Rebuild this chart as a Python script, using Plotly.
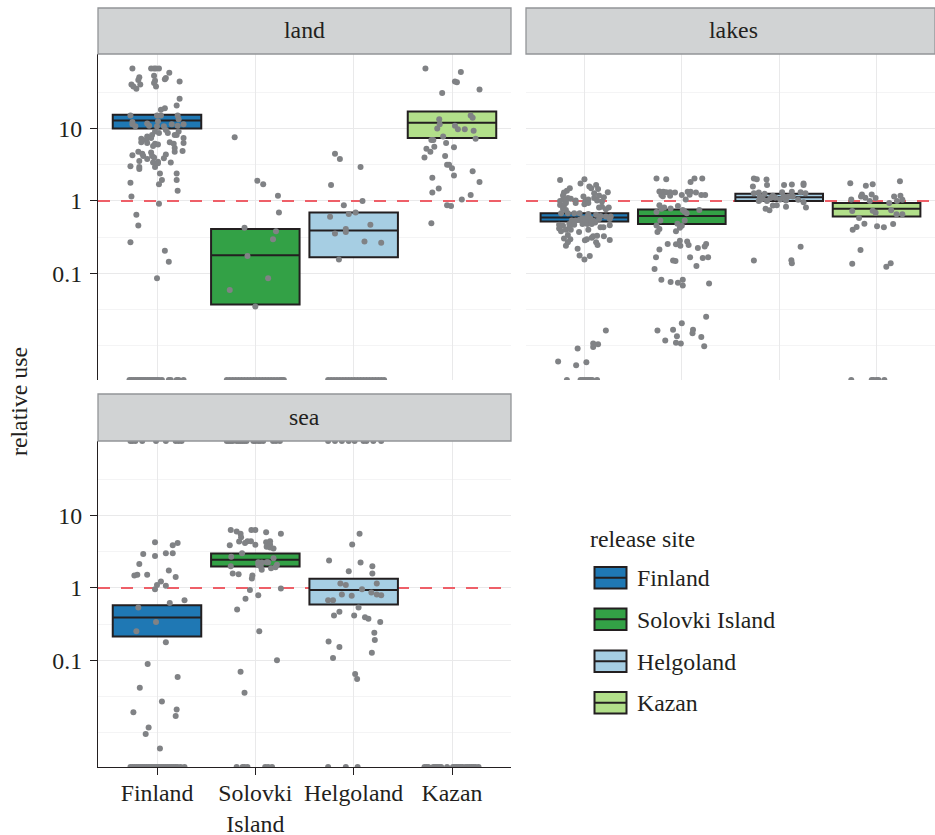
import numpy as np
import plotly.graph_objects as go

sites = ["Finland", "Solovki Island", "Helgoland", "Kazan"]
site_ticks = ["Finland", "Solovki<br>Island", "Helgoland", "Kazan"]
site_colors = ["#1f78b4", "#33a146", "#a6cee3", "#b2df8a"]
y_ticks = [0.1, 1, 10]
y_minor = [0.003162, 0.01, 0.03162, 0.3162, 3.162, 31.62]

# everything below is log10(relative use); *_x is the jitter around the site position
floor = -2.475
top = 2.03

# boxes: q1, median, q3
land_q = [[1.0, 1.11, 1.19], [-1.43, -0.75, -0.39], [-0.78, -0.41, -0.16], [0.87, 1.08, 1.235]]
lakes_q = [[-0.286, -0.23, -0.17], [-0.32, -0.21, -0.12], [0.0, 0.05, 0.10], [-0.217, -0.11, -0.03]]
sea_q = [[-0.67, -0.41, -0.24], [0.295, 0.39, 0.475], [-0.23, -0.03, 0.125], None]

land_fin_x = [-.25,-.06,-.03,-.01,.02,.125,-.03,-.18,-.19,.09,.08,-.02,.23,-.03,-.01,-.17,-.26,-.24,-.21,.23,.20,.08,.04,-.27,0,.04,.21,.22,-.25,-.25,-.22,-.10,-.08,.01,.15,0,.07,.21,.27,.09,.11,.22,.02,-.02,-.05,-.10,-.16,-.16,-.11,-.10,-.06,.27,.20,.18,.27,.13,.17,-.02,.01,-.04,.26,.18,.18,-.19,-.25,-.15,-.14,-.06,-.05,-.10,-.18,-.03,.09,.07,.14,-.04,.01,.01,-.02,-.27,-.18,-.18,.03,.20,.20,.05,.02,-.27,.21,-.26,.02,-.21,-.19,-.27,.08,.12,0]
land_fin_y = [1.83,1.83,1.83,1.83,1.83,1.77,1.73,1.71,1.67,1.70,1.68,1.66,1.65,1.63,1.58,1.61,1.61,1.58,1.55,1.41,1.32,1.28,1.26,1.18,1.18,1.18,1.18,1.13,1.09,1.06,1.03,1.07,1.04,1.10,1.06,1.03,1.03,1.04,1.06,.98,.94,.96,.94,.96,.91,.89,.86,.81,.84,.80,.87,.87,.91,.91,.80,.81,.79,.79,.78,.76,.69,.73,.68,.68,.63,.65,.62,.67,.62,.58,.55,.60,.64,.59,.53,.53,.54,.52,.47,.48,.47,.44,.38,.38,.29,.29,.23,.25,.14,.06,-.04,-.19,-.34,-.57,-.69,-.84,-1.07]
land_fin_floor_x = [-.28,-.26,-.24,-.22,-.20,-.18,-.16,-.14,-.12,-.10,-.08,-.06,-.04,-.02,0,.02,.05,.12,.14,.20,.22,.27]

land_sol_x = [-.21,.02,.08,.23,.24,-.11,.21,.18,-.08,.13,-.26,0]
land_sol_y = [.88,.28,.23,.07,-.16,-.37,-.42,-.53,-.76,-1.07,-1.23,-1.46]
land_sol_floor_x = [-.29,-.26,-.23,-.20,-.17,-.14,-.11,-.08,-.05,-.02,.01,.04,.07,.10,.13,.16,.19,.22,.25,.27,.29]

land_hel_x = [-.19,-.14,.07,-.23,.09,-.10,.02,-.05,-.24,.17,-.08,-.08,-.19,.11,.28,-.15]
land_hel_y = [.65,.58,.47,.22,0,-.06,-.16,-.18,-.22,-.33,-.39,-.43,-.45,-.56,-.58,-.81]
land_hel_floor_x = [-.26,-.23,-.20,-.17,-.14,-.11,-.08,-.05,-.02,.01,.04,.07,.10,.13,.16,.19,.22,.25,.28,.31]

land_kaz_x = [-.27,.09,.03,.05,-.10,.28,.19,.21,-.13,-.125,-.15,.03,.06,.13,.22,-.09,.24,-.21,-.19,-.06,-.18,-.26,-.22,.02,-.07,-.28,-.05,-.03,0,.21,.02,-.20,.28,-.135,-.20,.19,.10,-.05,-.01,-.21]
land_kaz_y = [1.83,1.78,1.65,1.64,1.49,1.54,1.18,1.15,1.13,1.06,1.0,1.04,.99,.99,.97,.89,.86,.84,.84,.80,.75,.72,.68,.74,.62,.60,.50,.50,.45,.41,.35,.32,.26,.17,.115,.08,.02,-.06,-.07,-.31]

lakes_fin_x = [-.25,0,-.04,.05,.12,.07,.14,-.15,-.18,-.21,-.22,.24,.20,.10,.15,-.01,.10,-.17,-.14,-.22,-.25,-.19,-.09,.01,.04,.13,.18,-.25,-.21,-.19,-.09,0,.04,.15,.18,.25,.22,-.22,-.19,-.24,-.17,-.105,-.05,.04,.12,.165,.22,.27,-.13,-.05,0,.05,.09,.15,.26,-.26,-.22,-.155,-.105,-.02,.03,.075,.11,.165,.195,.26,-.26,-.19,-.24,-.14,.04,-.055,-.17,-.21,-.145,.09,.075,.13,.20,.26,.025,.005,-.17,-.19,.12,.135,-.07,-.05,.055,0,-.02,.01,.06,.075,.03,-.155,-.09,.22,.09,.14,.09,-.07,-.27,-.085,.02]
lakes_fin_y = [.29,.30,.24,.20,.22,.175,.165,.175,.14,.115,.075,.12,.05,.105,.075,.06,.04,.04,.03,.015,0,.005,.005,0,.02,.005,-.01,-.055,-.065,-.03,-.03,-.045,-.03,-.09,-.08,-.09,-.115,-.11,-.125,-.17,-.17,-.17,-.17,-.18,-.19,-.21,-.215,-.215,-.27,-.26,-.285,-.30,-.275,-.25,-.25,-.33,-.345,-.32,-.33,-.32,-.32,-.32,-.30,-.365,-.365,-.335,-.38,-.40,-.42,-.40,-.40,-.43,-.47,-.52,-.53,-.49,-.51,-.48,-.49,-.54,-.53,-.545,-.57,-.62,-.57,-.61,-.66,-.755,-.76,-.81,-.24,-.26,-.24,-.29,-.22,-.37,-.27,-1.79,-1.97,-1.98,-2.02,-2.04,-2.22,-2.27,-2.23]
lakes_fin_floor_x = [-.18,-.04,-.02,0,.02,.04,.06,.08,.13]

lakes_sol_x = [-.26,-.16,.09,.13,.21,-.23,-.19,-.16,-.12,-.07,.06,.09,.145,-.21,-.195,-.12,0,.08,.20,.24,.04,-.23,-.18,-.21,-.115,-.04,.01,.03,.05,.18,-.26,-.22,.03,-.045,0,-.02,-.26,-.23,-.25,-.06,-.02,.055,-.145,-.06,-.015,.07,.25,.235,.165,-.23,-.265,-.09,-.065,.085,.215,.27,.15,-.28,-.21,-.115,-.04,.01,.01,.28,.25,0,-.25,-.09,.115,.11,-.05,.20,-.17,-.06,-.01,.23]
lakes_sol_y = [.31,.30,.26,.31,.31,.13,.125,.12,.12,.115,.125,.125,.115,.08,.065,.07,.08,.085,.08,.08,.02,-.06,-.09,-.11,-.105,-.07,-.125,-.15,-.17,-.125,-.155,-.27,-.27,-.315,-.345,-.37,-.34,-.39,-.43,-.42,-.55,-.56,-.595,-.60,-.62,-.61,-.595,-.63,-.65,-.67,-.78,-.825,-.83,-.78,-.79,-.78,-.90,-.94,-1.09,-1.12,-1.13,-1.09,-1.17,-1.14,-1.60,-1.69,-1.79,-1.78,-1.78,-1.83,-1.87,-1.88,-1.93,-1.96,-1.97,-2.01]

lakes_hel_x = [-.26,-.23,-.13,-.27,-.125,.05,.13,.25,.25,-.26,-.21,-.15,.03,.13,.22,.27,-.20,-.19,-.21,-.125,-.09,-.065,-.04,.01,.07,.095,.14,.195,.25,-.065,-.025,.07,.275,-.14,-.10,-.17,.045,.22,-.26,.125,.13]
lakes_hel_y = [.31,.30,.295,.20,.22,.22,.225,.24,.22,.105,.115,.10,.12,.125,.12,.105,.06,.02,0,0,.04,.07,.045,.02,.005,.06,.06,.015,-.02,-.065,-.06,-.08,-.09,-.11,-.13,.03,.06,-.635,-.825,-.82,-.86]

lakes_kaz_x = [.24,-.27,-.11,-.04,-.15,-.05,-.16,-.115,-.01,.18,.245,-.26,-.07,.21,.265,.13,-.25,-.04,-.01,.15,.205,.265,-.18,-.125,-.205,-.245,.005,.075,.17,-.165,-.25,.145,.10]
lakes_kaz_y = [.27,.245,.21,.23,.09,.09,.06,.045,.04,.06,.07,.02,0,0,.015,-.03,-.14,-.135,-.165,-.13,-.185,-.185,-.235,-.315,-.36,-.40,-.35,-.365,-.32,-.68,-.87,-.86,-.91]
lakes_kaz_floor_x = [-.26,-.05,-.03,0,.02,.08]

sea_fin_x = [-.02,.21,.16,-.14,.09,.16,-.02,-.18,.12,-.23,-.20,-.10,.19,.04,0,.09,-.02,.28,.13,-.19,-.01,-.21,.09,-.095,.21,-.175,.05,-.24,.20,.19,-.085,-.115,.03]
sea_fin_y = [.63,.62,.59,.47,.48,.48,.44,.33,.24,.17,.18,.18,.15,.09,.04,.03,-.02,-.17,-.21,-.27,-.47,-.60,-.75,-1.05,-1.23,-1.38,-1.57,-1.72,-1.68,-1.77,-1.93,-2.02,-2.22]
sea_fin_floor_x = [-.27,-.25,-.23,-.21,-.19,-.17,-.15,-.13,-.11,-.09,-.07,-.05,-.03,-.01,.01,.03,.05,.07,.09,.11,.13,.15,.17,.19,.21,.24,.28]
sea_fin_cap_x = [-.27,-.25,-.22,-.15,-.01,.09,.19,.22,.25]

sea_sol_x = [-.25,-.19,-.15,-.145,-.04,0,.11,.26,-.165,-.26,-.105,-.08,-.045,0,.11,.15,.15,.115,.15,.185,-.135,-.245,.185,.03,.065,.115,.13,-.25,.03,.055,.065,.16,.205,.22,-.23,-.17,-.03,-.035,.26,-.055,.03,-.10,-.185,.04,.22,-.15,-.11]
sea_sol_y = [.80,.78,.75,.70,.80,.80,.77,.75,.64,.59,.62,.645,.645,.595,.63,.645,.60,.57,.56,.545,.48,.43,.41,.355,.35,.355,.355,.30,.32,.295,.25,.27,.285,.32,.20,.19,.17,.13,-.01,-.03,-.10,-.15,-.30,-.60,-1.0,-1.16,-1.45]
sea_sol_floor_x = [-.19,-.13,-.11,-.08,.10,.13,.17]
sea_sol_cap_x = [-.29,-.27,-.25,-.23,-.19,-.17,-.15,-.13,-.11,-.09,-.02,0,.03,.05,.08,.18,.21,.25]

sea_hel_x = [.06,-.015,-.25,.07,.19,-.05,.19,-.135,-.08,.235,.085,.18,-.12,-.02,.235,.28,-.26,-.21,.05,-.145,-.20,.005,.115,.15,.27,.21,.215,-.255,-.145,.185,-.21,.015,.035]
sea_hel_y = [.75,.60,.38,.35,.30,.23,.20,.06,.04,.06,-.02,-.065,-.09,-.11,-.09,-.10,-.17,-.17,-.27,-.33,-.38,-.38,-.405,-.425,-.47,-.62,-.72,-.74,-.815,-.895,-.97,-1.19,-1.26]
sea_hel_floor_x = [-.26,-.08,.04]
sea_hel_cap_x = [-.26,-.19,-.12,-.05,.01,.10,.13,.20,.28]

sea_kaz_floor_x = [-.28,-.26,-.24,-.19,-.17,-.15,-.13,-.11,-.05,.01,.03,.05,.07,.09,.11,.14,.16,.18,.20,.22,.24,.27]

W, H = 935, 835
def px_x(p):
    return p / W
def px_y(p):
    return 1 - p / H

point_color = "#808285"
box_line = "#231f20"
font = dict(family="Liberation Serif", size=23.8, color="#231f20")

fig = go.Figure()

def add_boxes(quart, xa, ya):
    for i, q in enumerate(quart):
        if q is None:
            continue
        fig.add_trace(go.Box(
            x=[i + 1], q1=[10 ** q[0]], median=[10 ** q[1]], q3=[10 ** q[2]],
            lowerfence=[10 ** q[0]], upperfence=[10 ** q[2]],
            width=0.9, fillcolor=site_colors[i], line=dict(color=box_line, width=2),
            boxpoints=False, xaxis=xa, yaxis=ya, showlegend=False, hoverinfo="skip"))

def add_points(i, xs, ys, xa, ya):
    fig.add_trace(go.Scatter(
        x=[i + 1 + v for v in xs], y=[10 ** v for v in ys], mode="markers",
        marker=dict(color=point_color, size=6, line=dict(width=0)),
        xaxis=xa, yaxis=ya, showlegend=False, hoverinfo="skip"))

add_boxes(land_q, "x", "y")
add_boxes(lakes_q, "x2", "y2")
add_boxes(sea_q, "x3", "y3")

add_points(0, land_fin_x, land_fin_y, "x", "y")
add_points(0, land_fin_floor_x, [floor] * len(land_fin_floor_x), "x", "y")
add_points(1, land_sol_x, land_sol_y, "x", "y")
add_points(1, land_sol_floor_x, [floor] * len(land_sol_floor_x), "x", "y")
add_points(2, land_hel_x, land_hel_y, "x", "y")
add_points(2, land_hel_floor_x, [floor] * len(land_hel_floor_x), "x", "y")
add_points(3, land_kaz_x, land_kaz_y, "x", "y")

add_points(0, lakes_fin_x, lakes_fin_y, "x2", "y2")
add_points(0, lakes_fin_floor_x, [floor] * len(lakes_fin_floor_x), "x2", "y2")
add_points(1, lakes_sol_x, lakes_sol_y, "x2", "y2")
add_points(2, lakes_hel_x, lakes_hel_y, "x2", "y2")
add_points(3, lakes_kaz_x, lakes_kaz_y, "x2", "y2")
add_points(3, lakes_kaz_floor_x, [floor] * len(lakes_kaz_floor_x), "x2", "y2")

add_points(0, sea_fin_x, sea_fin_y, "x3", "y3")
add_points(0, sea_fin_floor_x, [floor] * len(sea_fin_floor_x), "x3", "y3")
add_points(0, sea_fin_cap_x, [top] * len(sea_fin_cap_x), "x3", "y3")
add_points(1, sea_sol_x, sea_sol_y, "x3", "y3")
add_points(1, sea_sol_floor_x, [floor] * len(sea_sol_floor_x), "x3", "y3")
add_points(1, sea_sol_cap_x, [top] * len(sea_sol_cap_x), "x3", "y3")
add_points(2, sea_hel_x, sea_hel_y, "x3", "y3")
add_points(2, sea_hel_floor_x, [floor] * len(sea_hel_floor_x), "x3", "y3")
add_points(2, sea_hel_cap_x, [top] * len(sea_hel_cap_x), "x3", "y3")
add_points(3, sea_kaz_floor_x, [floor] * len(sea_kaz_floor_x), "x3", "y3")

grid = "#e9e9ea"
grid_minor = "#f4f4f5"
panels = [("", 98, 511, 54, 380), ("2", 526, 935, 54, 380), ("3", 98, 511, 441, 767)]
for suffix, x0, x1, y0, y1 in panels:
    left = suffix != "2"
    bottom = suffix == "3"
    fig.layout["xaxis" + suffix] = dict(
        domain=[px_x(x0), px_x(x1)], range=[0.4, 4.6], anchor="y" + suffix, automargin=False,
        tickvals=[1, 2, 3, 4], ticktext=site_ticks if bottom else ["", "", "", ""],
        showgrid=True, gridcolor=grid, gridwidth=1.2, zeroline=False,
        showline=bottom, linecolor="#231f20", linewidth=1.3,
        ticks="outside" if bottom else "", ticklen=7, tickcolor="#231f20", tickwidth=1.2,
        ticklabelstandoff=-3, tickfont=font)
    fig.layout["yaxis" + suffix] = dict(
        domain=[px_y(y1), px_y(y0)], type="log", range=[floor, top], anchor="x" + suffix, automargin=False,
        tickmode="array", tickvals=y_ticks, ticktext=[str(t) for t in y_ticks] if left else ["", "", ""],
        showgrid=True, gridcolor=grid, gridwidth=1.2, zeroline=False,
        showline=left, linecolor="#231f20", linewidth=1.3,
        ticks="outside" if left else "", ticklen=7, tickcolor="#231f20", tickwidth=1.2,
        ticklabelstandoff=3, tickfont=font,
        minor=dict(tickmode="array", tickvals=y_minor, showgrid=True, gridcolor=grid_minor, gridwidth=1, ticks=""))
    # dashed reference at relative use = 1, under the boxes
    fig.add_shape(type="line", xref="x" + suffix, yref="y" + suffix, x0=0.4, x1=4.6, y0=1, y1=1,
                  line=dict(color="#ee5f68", width=2, dash="12px,11px"), layer="between")

for name, x0, x1, y0, y1, lx in [("land", 98, 511, 8, 54, 304.5), ("lakes", 526, 935, 8, 54, 733), ("sea", 98, 511, 394, 441, 304.5)]:
    fig.add_shape(type="rect", xref="paper", yref="paper", x0=px_x(x0), x1=px_x(x1), y0=px_y(y1), y1=px_y(y0),
                  fillcolor="#d1d3d4", line=dict(color="#939598", width=1.3), layer="above")
    fig.add_annotation(xref="paper", yref="paper", x=px_x(lx), y=px_y((y0 + y1) / 2 - 1), text=name,
                       showarrow=False, font=font, xanchor="center", yanchor="middle")

fig.add_annotation(xref="paper", yref="paper", x=px_x(19), y=px_y(402), text="relative use", textangle=-90,
                   showarrow=False, font=font, xanchor="center", yanchor="middle")

# legend drawn by hand: the built-in box icon is too small
fig.add_annotation(xref="paper", yref="paper", x=px_x(588), y=px_y(539), text="release site",
                   showarrow=False, font=font, xanchor="left", yanchor="middle")
key_top = [567, 608.5, 650.5, 692]
for site, color, y0 in zip(sites, site_colors, key_top):
    y1 = y0 + 21.5
    fig.add_shape(type="rect", xref="paper", yref="paper", x0=px_x(594.5), x1=px_x(626.5), y0=px_y(y1), y1=px_y(y0),
                  fillcolor=color, line=dict(color=box_line, width=2))
    fig.add_shape(type="line", xref="paper", yref="paper", x0=px_x(594.5), x1=px_x(626.5),
                  y0=px_y((y0 + y1) / 2), y1=px_y((y0 + y1) / 2), line=dict(color=box_line, width=2))
    fig.add_annotation(xref="paper", yref="paper", x=px_x(635), y=px_y((y0 + y1) / 2 + 0.5), text=site,
                       showarrow=False, font=font, xanchor="left", yanchor="middle")

fig.update_layout(width=W, height=H, margin=dict(l=0, r=0, t=0, b=0), plot_bgcolor="white", paper_bgcolor="white",
                  boxmode="overlay", font=font, showlegend=False)

fig.write_html("out.html", post_script="document.body.style.margin='0';", config={"displayModeBar": False})
